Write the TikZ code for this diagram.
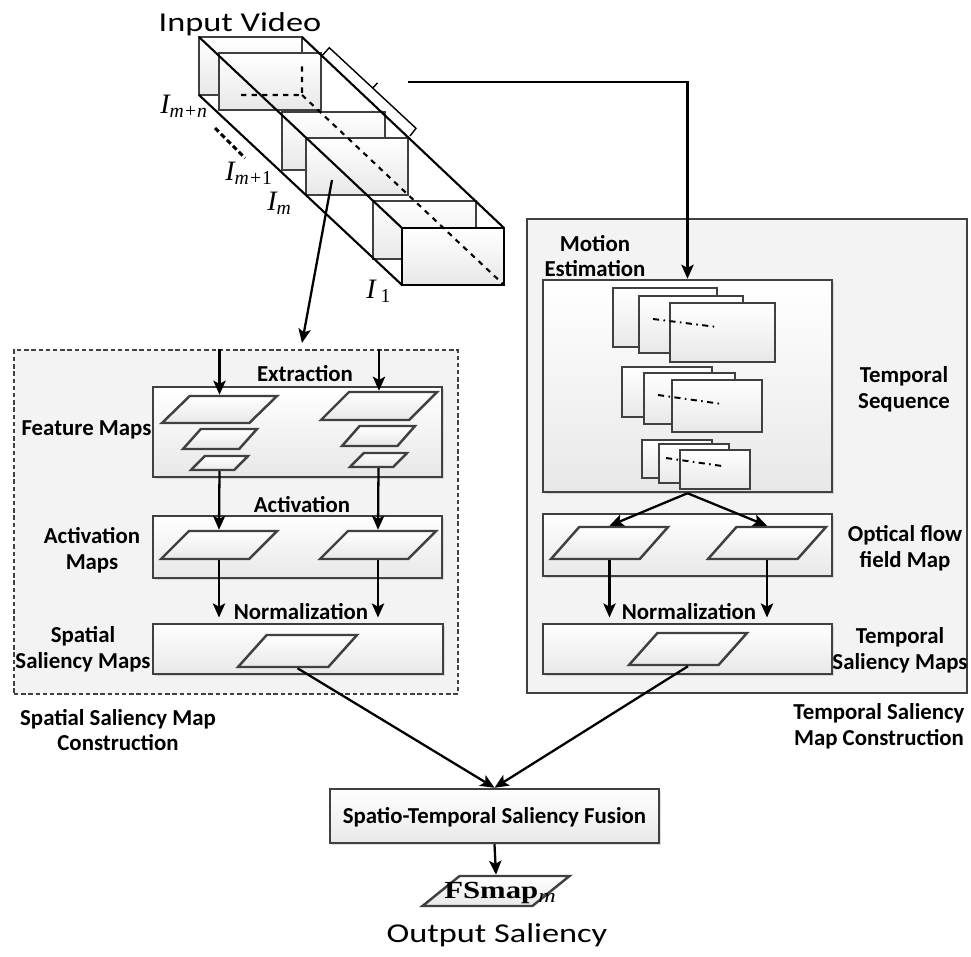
\documentclass[tikz,border=0pt]{standalone}
\usepackage{fontspec}
\usepackage{graphicx}
\setmainfont{Carlito}
\newfontfamily\tnr{Liberation Serif}
\usetikzlibrary{arrows.meta,shapes.geometric,shadows}

\definecolor{edgegray}{HTML}{404040}
\definecolor{panelfill}{HTML}{F3F3F3}

\tikzset{
  wh/.style 2 args={minimum width=#1*0.02cm, minimum height=#2*0.02cm},
  box/.style={draw=edgegray, line width=1.4pt, top color=white, bottom color=black!9,
    inner sep=0pt, drop shadow={shadow xshift=1.2pt, shadow yshift=-1.2pt, opacity=0.25}},
  panel/.style={draw=edgegray, line width=1.4pt, fill=panelfill, inner sep=0pt},
  para/.style={trapezium, trapezium left angle=65, trapezium right angle=115,
    trapezium stretches=true, draw=edgegray, line width=1.4pt,
    top color=white, bottom color=black!9, inner sep=1pt},
  frame/.style={draw=edgegray, line width=1.3pt, top color=white, bottom color=black!9},
  arr/.style={-{Stealth[length=8pt,width=7pt,inset=1.8pt]}, line width=1.3pt},
  lbl/.style={font=\fontsize{13}{14.6}\selectfont\bfseries, align=center, inner sep=0pt},
  big/.style={font=\fontsize{15.5}{18}\selectfont, inner sep=0pt},
  idx/.style={font=\tnr\itshape\fontsize{16}{18}\selectfont, inner sep=0pt, anchor=base west},
  motionline/.style={line width=1.1pt, dash pattern=on 3.5pt off 2.5pt on 0.9pt off 2.5pt}
}

\begin{document}
\begin{tikzpicture}[x=0.02cm, y=-0.02cm]
  \useasboundingbox (0,0) rectangle (971,957);

  % input video: three pairs of frames
  \foreach \bx/\by/\fx/\fy in {199/37/219/53, 282/112/306/138, 373/201/402/228} {
    \draw[frame] (\bx,\by) rectangle ++(103,58);
    \draw[frame] (\fx,\fy) rectangle ++(102,57);
  }
  % prism edges on top of the frames
  \draw[line width=1.2pt] (199,37) -- (402,228) (302,37) -- (504,228) (199,95) -- (402,285);
  \draw[line width=1.2pt] (402,228) rectangle (504,285);
  \draw[line width=1.2pt, dashed] (241,95) -- (302,95) -- (302,63) (302,95) -- (504,285);
  \node[big, anchor=base] (invid) at (240,31) {\scalebox{1.26}[1]{Input Video}};

  % frame indices
  \node[idx] (imn) at (160,113) {I\textsubscript{m+n}};
  \node[idx] (im1) at (225,180) {I\textsubscript{m+\upshape 1}};
  \node[idx] (im) at (267,210) {I\textsubscript{m}};
  \node[idx] (i1) at (366,298) {I\textsubscript{\upshape\ 1}};
  \draw[line width=1.8pt, dash pattern=on 3pt off 1.8pt] (215,128) -- (245,158);

  % bracket over the frame sequence
  \draw[line width=0.8pt] (322.7,55) -- (329.3,47.7) -- (416,128.3) -- (410,136);
  \draw[line width=0.8pt] (372.7,88) -- (377.5,82.9);
  \coordinate (seqout) at (408,82);
  \coordinate (frmout) at (332,180);
  \coordinate (spin) at (302,343);

  % spatial branch
  \node[panel, dash pattern=on 2.5pt off 1.6pt, wh={444}{344}] (spat) at (236,522) {};
  \node[box, wh={289}{90}] (feat) at (297.5,432) {};
  \node[box, wh={289}{62}] (actv) at (297.5,547) {};
  \node[box, wh={290}{50}] (spsal) at (298,649) {};

  \node[para, wh={115}{27}] (L1) at (219.5,409.5) {};
  \node[para, wh={74}{20}] (L2) at (220,439) {};
  \node[para, wh={57}{14}] (L3) at (219.5,463) {};
  \node[para, wh={116}{28}] (R1) at (379,406) {};
  \node[para, wh={73}{20}] (R2) at (378.5,436) {};
  \node[para, wh={57}{14}] (R3) at (378.5,460) {};
  \node[para, wh={116}{28}] (AL) at (219,545) {};
  \node[para, wh={116}{28}] (AR) at (378,545) {};
  \node[para, wh={119}{32}] (SP) at (297.5,651) {};

  \node[lbl, anchor=base] (extr) at (305,381.5) {Extraction};
  \node[lbl, anchor=base] (actlbl) at (302,512.5) {Activation};
  \node[lbl, anchor=base] (nrmL) at (301,619) {Normalization};
  \node[lbl, anchor=base] (featlbl) at (86.5,435) {Feature Maps};
  \node[lbl] (actmaps) at (92,550) {Activation\\Maps};
  \node[lbl] (spmaps) at (83,649) {Spatial\\Saliency Maps};
  \node[lbl] (spcons) at (118,730) {Spatial Saliency Map\\Construction};

  \draw[arr] (L1.north |- spat.north) -- (L1.north);
  \draw[arr] (R1.north |- spat.north) -- (R1.north);
  \draw[arr] (L3.south) -- (AL.north);
  \draw[arr] (R3.south) -- (AR.north);
  \draw[arr, shorten >=3pt] (AL.south) -- (AL.south |- spsal.north);
  \draw[arr, shorten >=3pt] (AR.south) -- (AR.south |- spsal.north);

  % temporal branch
  \node[panel, wh={440}{474}] (temp) at (747,456) {};
  \node[box, wh={289}{212}] (motion) at (687.5,386) {};
  \node[box, wh={289}{62}] (optic) at (687.5,545) {};
  \node[box, wh={289}{50}] (tpsal) at (687.5,649) {};

  % stacks of consecutive frames
  \foreach \x/\y/\w/\h in {613/288/104/59, 639/296/104/57, 670/303/105/59,
                           622/367/90/50, 644/373/91/51, 672/380/90/52,
                           642/440/70/38, 659/444/70/39, 680/450/70/39} {
    \draw[frame, line width=1.4pt] (\x,\y) rectangle ++(\w,\h);
  }
  \draw[motionline] (653,319) -- (717,327);
  \draw[motionline] (658,395) -- (722,404);
  \draw[motionline] (666,458) -- (722,466);

  \node[para, wh={117}{32}] (OL) at (609.5,543) {};
  \node[para, wh={118}{32}] (OR) at (767,543) {};
  \node[para, wh={118}{32}] (TP) at (688,649) {};

  \node[lbl] (motlbl) at (595,256) {Motion\\Estimation};
  \node[lbl] (seqlbl) at (904,389.5) {Temporal\\Sequence};
  \node[lbl] (optlbl) at (905,548.5) {Optical flow\\field Map};
  \node[lbl, anchor=base] (nrmR) at (689,619) {Normalization};
  \node[lbl] (tpmaps) at (900,650.5) {Temporal\\Saliency Maps};
  \node[lbl] (tpcons) at (879,726) {Temporal Saliency\\Map Construction};

  \draw[arr] (motion.south) -- (OL.north);
  \draw[arr] (motion.south) -- (OR.north);
  \draw[arr, shorten >=3pt] (OL.south) -- (OL.south |- tpsal.north);
  \draw[arr, shorten >=3pt] (OR.south) -- (OR.south |- tpsal.north);

  % inputs to both branches
  \draw[arr] (frmout) -- (spin);
  \draw[arr] (seqout) -| (motion.north);

  % fusion and output
  \node[box, wh={329}{54}] (fusion) at (494.5,816) {};
  \node[lbl, anchor=base] (fuslbl) at (494.5,823) {Spatio-Temporal Saliency Fusion};
  \node[para, trapezium left angle=63, trapezium right angle=117, wh={147}{30}] (fsmap) at (496,891) {};
  \node[inner sep=0pt, anchor=base] (fstxt) at (500,898) {\scalebox{1.25}[1]{\tnr\fontsize{14}{16}\selectfont\bfseries FSmap\raisebox{-2.5pt}{\fontsize{11}{12}\selectfont\mdseries\itshape m}}};
  \node[big, anchor=base] (outlbl) at (497,942) {\scalebox{1.26}[1]{Output Saliency}};

  \draw[arr] (SP.south) -- (fusion.north);
  \draw[arr] (TP.south) -- (fusion.north);
  \draw[arr] (fusion.south) -- (fsmap.north);
\end{tikzpicture}
\end{document}
